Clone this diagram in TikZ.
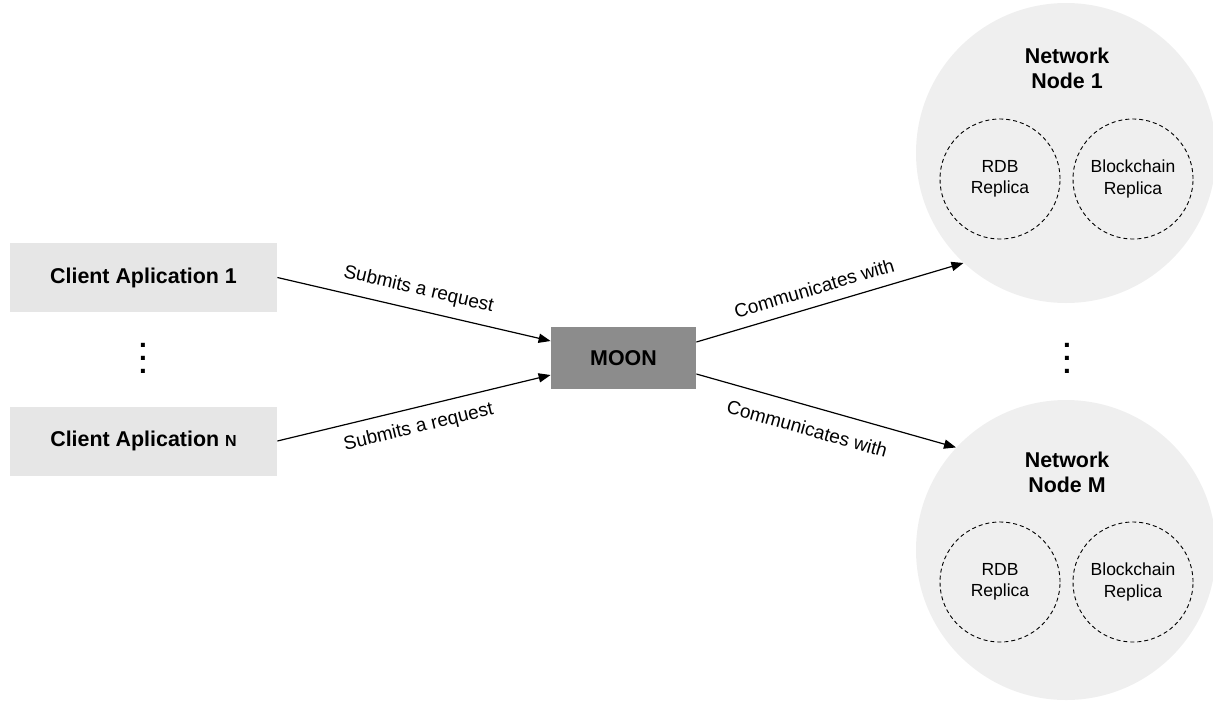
\documentclass[tikz,border=0pt]{standalone}
\usepackage{fontspec}
\setmainfont{Liberation Sans}
\usetikzlibrary{arrows.meta}
\definecolor{clientgray}{HTML}{E6E6E6}
\definecolor{moongray}{HTML}{8C8C8C}
\definecolor{circgray}{HTML}{EFEFEF}
\begin{document}
\begin{tikzpicture}[x=0.5pt,y=-0.5pt,
  boldfont/.style={font=\fontsize{10.7}{12.4}\selectfont\bfseries},
  client/.style={boldfont, fill=clientgray, minimum width=133.5pt, minimum height=34.5pt, inner sep=0pt},
  moonbox/.style={boldfont, fill=moongray, minimum width=72.5pt, minimum height=31pt, inner sep=0pt},
  netcircle/.style={circle, fill=circgray, minimum size=150pt, inner sep=0pt},
  replica/.style={circle, draw, line width=0.45pt, dash pattern=on 2pt off 1.5pt, minimum size=60pt, inner sep=0pt, align=center, font=\fontsize{8.75}{10.6}\selectfont},
  nettitle/.style={boldfont, align=center, inner sep=0pt},
  conn/.style={-{Triangle[length=6pt,width=4.6pt]}, line width=0.6pt},
  lbl/.style={font=\fontsize{9.5}{11.5}\selectfont, sloped},
  vdotsnode/.style={inner sep=0pt, font=\fontsize{14}{14}\selectfont\bfseries}
]
\useasboundingbox (0,0) rectangle (1213,702);

% clients
\node[client] (c1) at (143.5,277.5) {Client Aplication 1};
\node[client] (cN) at (143.5,441) {Client Aplication {\fontsize{8}{10}\selectfont N}};
\node[vdotsnode] (ldots) at (143,358) {\vbox{\baselineskip=6.5pt\hbox{.}\hbox{.}\hbox{.}}};

% moon
\node[moonbox] (moon) at (623.5,358) {MOON};

% network nodes
\node[netcircle] (net1) at (1066,153) {};
\node[netcircle] (netM) at (1066,550) {};
\node[nettitle] (t1) at (1067,68) {Network\\Node 1};
\node[nettitle] (tM) at (1067,472) {Network\\Node M};
\node[replica] (rdb1) at (1000,179) {RDB\\Replica};
\node[replica] (bc1) at (1133,179) {Blockchain\\Replica};
\node[replica] (rdbM) at (1000,582) {RDB\\Replica};
\node[replica] (bcM) at (1133,582) {Blockchain\\Replica};
\node[vdotsnode] (rdots) at (1067,358) {\vbox{\baselineskip=6.5pt\hbox{.}\hbox{.}\hbox{.}}};

% connectors
\draw[conn] (c1.east) -- node[lbl, above=2pt, midway] {Submits a request} ([yshift=8.5pt]moon.west);
\draw[conn] (cN.east) -- node[lbl, below=2pt, midway] {Submits a request} ([yshift=-8.5pt]moon.west);
\draw[conn] ([yshift=8pt]moon.east) -- node[lbl, above=2pt, pos=0.46] {Communicates with} (net1.227);
\draw[conn] ([yshift=-8pt]moon.east) -- node[lbl, below=4pt, pos=0.45] {Communicates with} (netM.137);
\end{tikzpicture}
\end{document}
